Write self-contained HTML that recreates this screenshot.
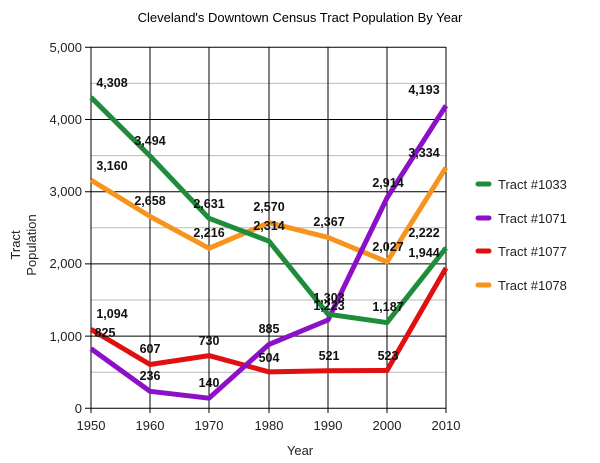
<!DOCTYPE html>
<html><head><style>body{margin:0;background:#fff}svg{display:block}</style></head><body>
<svg width="600" height="463" xmlns="http://www.w3.org/2000/svg" font-family="Liberation Sans, Arial, sans-serif">
<text x="300" y="22" font-size="13" text-anchor="middle">Cleveland's Downtown Census Tract Population By Year</text>
<g stroke="#bbb" stroke-width="1">
<line x1="91" x2="446" y1="83.4" y2="83.4"/><line x1="91" x2="446" y1="155.6" y2="155.6"/><line x1="91" x2="446" y1="227.8" y2="227.8"/><line x1="91" x2="446" y1="300" y2="300"/><line x1="91" x2="446" y1="372.2" y2="372.2"/>
</g>
<g stroke="#000" stroke-width="1">
<line x1="85" x2="446" y1="47.3" y2="47.3"/><line x1="85" x2="446" y1="119.5" y2="119.5"/><line x1="85" x2="446" y1="191.7" y2="191.7"/><line x1="85" x2="446" y1="263.9" y2="263.9"/><line x1="85" x2="446" y1="336.1" y2="336.1"/><line x1="85" x2="446" y1="408.3" y2="408.3"/>
<line x1="91" x2="91" y1="47" y2="413"/><line x1="150" x2="150" y1="47" y2="413"/><line x1="209" x2="209" y1="47" y2="413"/><line x1="269" x2="269" y1="47" y2="413"/><line x1="328" x2="328" y1="47" y2="413"/><line x1="387" x2="387" y1="47" y2="413"/><line x1="446" x2="446" y1="47" y2="413"/>
</g>
<g font-size="13" fill="#222" text-anchor="end">
<text x="82" y="52">5,000</text><text x="82" y="124">4,000</text><text x="82" y="196">3,000</text><text x="82" y="268">2,000</text><text x="82" y="341">1,000</text><text x="82" y="413">0</text>
</g>
<g font-size="13" fill="#222" text-anchor="middle">
<text x="91" y="430">1950</text><text x="150" y="430">1960</text><text x="209" y="430">1970</text><text x="269" y="430">1980</text><text x="328" y="430">1990</text><text x="387" y="430">2000</text><text x="446" y="430">2010</text>
<text x="300" y="455">Year</text>
<text transform="translate(20,245) rotate(-90)">Tract</text>
<text transform="translate(36,245) rotate(-90)">Population</text>
</g>
<g fill="none" stroke-width="5" stroke-linejoin="round">
<polyline stroke="#f7941d" points="91,180.1 150,216.4 209,248.3 269,222.7 328,237.4 387,261.9 446,167.6"/>
<polyline stroke="#e01010" points="91,329.3 150,364.5 209,355.6 269,371.9 328,370.7 387,370.5 446,268"/>
<polyline stroke="#8b10c8" points="91,348.7 150,391.3 209,398.2 269,344.4 328,320 387,197.9 446,105.6"/>
<polyline stroke="#1e8c3a" points="91,97.3 150,156 209,218.3 269,241.2 328,314.2 387,322.6 446,247.9"/>
</g>
<g font-size="12.5" font-weight="bold" fill="#111" text-anchor="middle">
<text x="112" y="87">4,308</text><text x="150" y="145">3,494</text><text x="209" y="208">2,631</text><text x="269" y="230">2,314</text><text x="329" y="302">1,303</text><text x="388" y="311">1,187</text><text x="424" y="237">2,222</text>
<text x="105" y="337">825</text><text x="150" y="380">236</text><text x="209" y="387">140</text><text x="269" y="333">885</text><text x="329" y="310">1,223</text><text x="388" y="187">2,914</text><text x="424" y="94">4,193</text>
<text x="112" y="318">1,094</text><text x="150" y="353">607</text><text x="209" y="345">730</text><text x="269" y="362">504</text><text x="329" y="360">521</text><text x="388" y="360">523</text><text x="424" y="257">1,944</text>
<text x="112" y="170">3,160</text><text x="150" y="205">2,658</text><text x="209" y="237">2,216</text><text x="269" y="211">2,570</text><text x="329" y="226">2,367</text><text x="388" y="251">2,027</text><text x="424" y="157">3,334</text>
</g>
<g stroke-width="5" stroke-linecap="round">
<line x1="478" x2="489" y1="184" y2="184" stroke="#1e8c3a"/><line x1="478" x2="489" y1="218" y2="218" stroke="#8b10c8"/><line x1="478" x2="489" y1="251" y2="251" stroke="#e01010"/><line x1="478" x2="489" y1="285" y2="285" stroke="#f7941d"/>
</g>
<g font-size="13" fill="#222">
<text x="498" y="189">Tract #1033</text><text x="498" y="223">Tract #1071</text><text x="498" y="256">Tract #1077</text><text x="498" y="290">Tract #1078</text>
</g>
</svg>
</body></html>
